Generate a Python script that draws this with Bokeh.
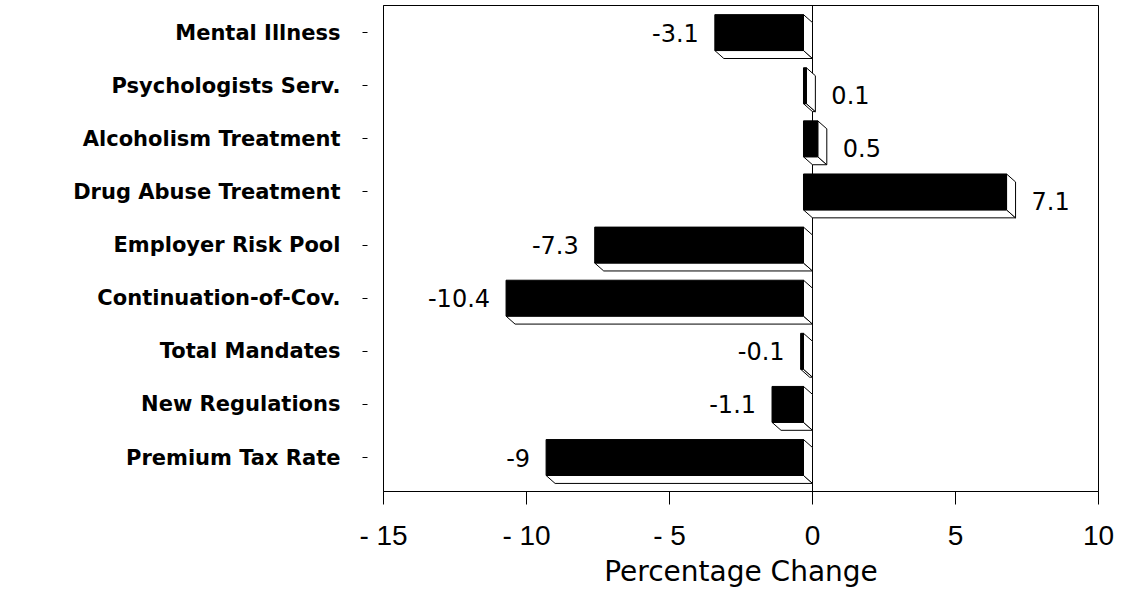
from bokeh.plotting import figure
from bokeh.models import Range1d, FixedTicker, Span, ColumnDataSource
from bokeh.embed import file_html
from bokeh.resources import INLINE
from bokeh.core.properties import value

# ---------------- data ----------------
categories = ["Mental Illness", "Psychologists Serv.", "Alcoholism Treatment",
              "Drug Abuse Treatment", "Employer Risk Pool", "Continuation-of-Cov.",
              "Total Mandates", "New Regulations", "Premium Tax Rate"]
values = [-3.1, 0.1, 0.5, 7.1, -7.3, -10.4, -0.1, -1.1, -9]
value_labels = ["-3.1", "0.1", "0.5", "7.1", "-7.3", "-10.4", "-0.1", "-1.1", "-9"]
x_ticks = [-15, -10, -5, 0, 5, 10]
x_tick_labels = ["- 15", "- 10", "- 5", "0", "5", "10"]
x_title = "Percentage Change"

# ---------------- style constants ----------------
DX = 0.315   # 3-D depth, x units
DY = 0.15    # 3-D depth, category units
HH = 0.338   # half height of the bar face
FONT = "Liberation Sans"
WIDE = "DejaVu Sans"

pos = list(range(len(categories)))
lo = [min(v, 0) for v in values]
hi = [max(v, 0) for v in values]

p = figure(width=1121, height=590, x_range=Range1d(-15, 10), y_range=Range1d(8.64, -0.51),
           output_backend="svg", toolbar_location=None,
           min_border_left=383, min_border_right=23, min_border_top=5, min_border_bottom=98,
           background_fill_color="white", border_fill_color="white")
p.grid.visible = False
p.outline_line_color = "black"
p.outline_line_width = 1
p.outline_line_alpha = 1

p.add_layout(Span(location=0, dimension="height", line_color="black", line_width=1, level="underlay"))

# bottom depth faces
bx = [[l - DX, h - DX, h, l] for l, h in zip(lo, hi)]
by = [[c + HH, c + HH, c + HH + DY, c + HH + DY] for c in pos]
p.patches(bx, by, fill_color="white", line_color="black", line_width=1, line_join="miter")
# right depth faces
rx = [[h - DX, h, h, h - DX] for h in hi]
ry = [[c - HH, c - HH + DY, c + HH + DY, c + HH] for c in pos]
p.patches(rx, ry, fill_color="white", line_color="black", line_width=1, line_join="miter")
# front faces
p.quad(left=[l - DX for l in lo], right=[h - DX for h in hi],
       top=[c - HH for c in pos], bottom=[c + HH for c in pos],
       fill_color="black", line_color="black", line_width=1)

neg = [i for i, v in enumerate(values) if v < 0]
posv = [i for i, v in enumerate(values) if v >= 0]
src_neg = ColumnDataSource(dict(x=[values[i] - DX for i in neg], y=[pos[i] for i in neg],
                                t=[value_labels[i] for i in neg]))
src_pos = ColumnDataSource(dict(x=[values[i] for i in posv], y=[pos[i] + DY for i in posv],
                                t=[value_labels[i] for i in posv]))
p.text(x="x", y="y", text="t", source=src_neg, text_align="right", text_baseline="middle",
       x_offset=-16, y_offset=0, text_font=value(WIDE), text_font_size="24px", text_color="black")
p.text(x="x", y="y", text="t", source=src_pos, text_align="left", text_baseline="middle",
       x_offset=16, y_offset=1, text_font=value(WIDE), text_font_size="24px", text_color="black")

xa = p.xaxis[0]
xa.ticker = FixedTicker(ticks=x_ticks, minor_ticks=[])
xa.major_label_overrides = dict(zip(x_ticks, x_tick_labels))
xa.major_tick_out = 13
xa.major_tick_in = 0
xa.minor_tick_line_color = None
xa.major_label_standoff = 15
xa.major_label_text_font = FONT
xa.major_label_text_font_size = "28px"
xa.major_label_text_color = "black"
xa.axis_label = x_title
xa.axis_label_standoff = 1
xa.axis_label_text_font = WIDE
xa.axis_label_text_font_size = "28px"
xa.axis_label_text_font_style = "normal"
xa.axis_label_text_color = "black"
xa.axis_line_color = "black"
xa.major_tick_line_color = "black"

ya = p.yaxis[0]
ya.ticker = FixedTicker(ticks=pos, minor_ticks=[])
ya.major_label_overrides = dict(zip(pos, categories))
ya.major_label_text_font = WIDE
ya.major_label_text_font_style = "bold"
ya.major_label_text_font_size = "21px"
ya.major_label_text_color = "black"
ya.major_label_standoff = 22
ya.major_tick_out = 21
ya.major_tick_in = -16
ya.minor_tick_line_color = None
ya.axis_line_color = "black"
ya.major_tick_line_color = "black"

open("out.html", "w").write(file_html(p, INLINE))
